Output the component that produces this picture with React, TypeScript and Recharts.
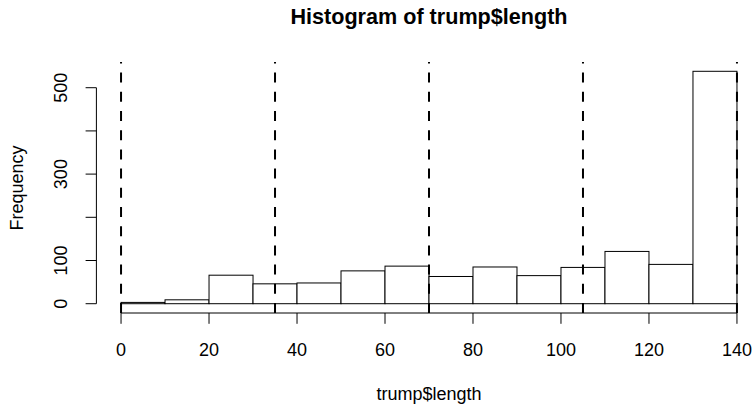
import React from 'react';
import { ComposedChart, Bar, XAxis, YAxis, ReferenceLine } from 'recharts';

// histogram of tweet lengths, bins of width 10
const binMids = [5, 15, 25, 35, 45, 55, 65, 75, 85, 95, 105, 115, 125, 135];
const counts = [3, 9, 66, 46, 48, 76, 87, 63, 85, 65, 84, 121, 91, 538];
const xTicks = [0, 20, 40, 60, 80, 100, 120, 140];
const yTicks = [0, 100, 200, 300, 400, 500];
const yLabelled = [0, 100, 300, 500];
const cutLines = [0, 35, 70, 105, 140];

const data = binMids.map((mid, i) => ({ mid, count: counts[i] }));

const FONT = '"Liberation Sans", Arial, Helvetica, sans-serif';
const W = 770;
const H = 405;
const TOP = 62;
const LEFT = 96.4;
const PLOT_RIGHT = 761.6;
const BOTTOM = 313;

// R style 4% padding on both axes
const X_MIN = 0 - 0.04 * 140;
const X_MAX = 140 + 0.04 * 140;
const maxCount = Math.max(...counts);
const Y_MIN = -0.04 * maxCount;
const Y_MAX = 1.04 * maxCount;
const BAR_PX = (10 * (PLOT_RIGHT - LEFT)) / (X_MAX - X_MIN);

const XTick = (props: any) => {
  const { x, y, payload } = props;
  return (
    <text x={x} y={y + 32} textAnchor="middle" fontSize={18} fontFamily={FONT} fill="#000">
      {payload.value}
    </text>
  );
};

const YTick = (props: any) => {
  const { x, y, payload } = props;
  if (!yLabelled.includes(payload.value)) return <g />;
  const bx = x - 18.6;
  return (
    <text
      x={bx}
      y={y}
      textAnchor="middle"
      fontSize={18}
      fontFamily={FONT}
      fill="#000"
      transform={`rotate(-90 ${bx} ${y})`}
    >
      {payload.value}
    </text>
  );
};

// full-width bin rectangle centred on the bin midpoint
const BinRect = (props: any) => {
  const { x, y, width, height } = props;
  const cx = x + width / 2;
  return (
    <rect
      x={cx - BAR_PX / 2}
      y={y}
      width={BAR_PX}
      height={height}
      fill="#fff"
      stroke="#000"
      strokeWidth={1}
    />
  );
};

export default function App() {
  return (
    <div
      style={{
        position: 'absolute',
        left: 0,
        top: 0,
        width: 754,
        height: 405,
        overflow: 'hidden',
        background: '#fff',
      }}
    >
      <ComposedChart
        width={W}
        height={H}
        data={data}
        barCategoryGap={0}
        barGap={0}
        margin={{ top: TOP, right: W - PLOT_RIGHT, bottom: 0, left: 0 }}
      >
        <XAxis
          dataKey="mid"
          type="number"
          domain={[X_MIN, X_MAX]}
          allowDataOverflow
          ticks={xTicks}
          interval={0}
          height={H - BOTTOM}
          tickSize={10.8}
          tickMargin={0}
          axisLine={false}
          tickLine={{ stroke: '#000' }}
          tick={XTick}
        />
        <YAxis
          type="number"
          domain={[Y_MIN, Y_MAX]}
          allowDataOverflow
          ticks={yTicks}
          interval={0}
          width={LEFT}
          tickSize={10.8}
          tickMargin={0}
          axisLine={false}
          tickLine={{ stroke: '#000' }}
          tick={YTick}
        />
        <Bar dataKey="count" shape={BinRect} isAnimationActive={false} />
        <ReferenceLine
          segment={[{ x: 0, y: Y_MIN }, { x: 140, y: Y_MIN }]}
          stroke="#000"
          strokeWidth={1}
          ifOverflow="visible"
        />
        <ReferenceLine
          segment={[{ x: X_MIN, y: 0 }, { x: X_MIN, y: 500 }]}
          stroke="#000"
          strokeWidth={1}
          ifOverflow="visible"
        />
        {cutLines.map((v) => (
          <ReferenceLine
            key={v}
            segment={[{ x: v, y: Y_MIN }, { x: v, y: Y_MAX }]}
            stroke="#000"
            strokeWidth={2}
            strokeDasharray="10 9.2"
            ifOverflow="visible"
          />
        ))}
      </ComposedChart>
      <svg
        width={754}
        height={405}
        style={{ position: 'absolute', left: 0, top: 0, pointerEvents: 'none' }}
      >
        <text x={429} y={24} textAnchor="middle" fontSize={21.6} fontWeight="bold" fontFamily={FONT} fill="#000">
          Histogram of trump$length
        </text>
        <text x={429} y={400} textAnchor="middle" fontSize={18} fontFamily={FONT} fill="#000">
          trump$length
        </text>
        <text
          x={23}
          y={188}
          textAnchor="middle"
          fontSize={18}
          fontFamily={FONT}
          fill="#000"
          transform="rotate(-90 23 188)"
        >
          Frequency
        </text>
      </svg>
    </div>
  );
}
